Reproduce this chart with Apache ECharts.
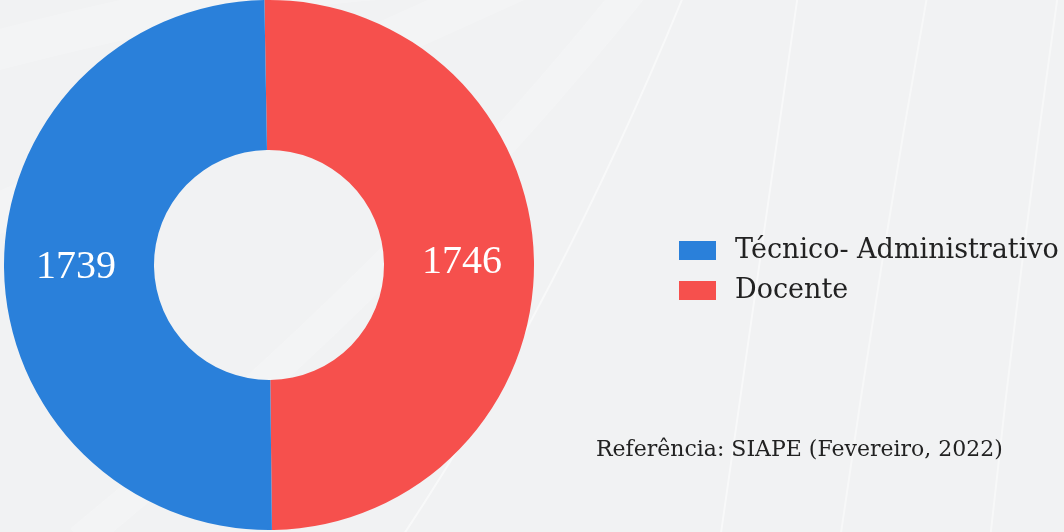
<!DOCTYPE html>
<html>
<head>
  <meta charset="UTF-8">
  <title>Servidores</title>
  <script src="https://cdn.jsdelivr.net/npm/echarts@6/dist/echarts.min.js"></script>
  <style>
    html, body { margin: 0; padding: 0; overflow: hidden; }
    #chart { width: 1064px; height: 532px; }
  </style>
</head>
<body>
<div id="chart"></div>
<script>
  // dados (SIAPE, fev/2022)
  var categorias = ['Docente', 'Técnico- Administrativo'];
  var valores = [1746, 1739];
  var cores = ['#f6504d', '#2a80da'];
  var ordemLegenda = ['Técnico- Administrativo', 'Docente'];
  var fonte = 'Referência: SIAPE (Fevereiro, 2022)';

  var myChart = echarts.init(document.getElementById('chart'));

  var dados = categorias.map(function (c, i) {
    return { name: c, value: valores[i], itemStyle: { color: cores[i] } };
  });

  // faixas claras do fundo (so decoracao)
  var faixas = [];
  var curvas = [
    [[-40, 60], [220, -10], [380, -20], 40, 0.2],
    [[-40, 230], [300, 80], [520, -20], 40, 0.2],
    [[80, 540], [420, 260], [640, -20], 30, 0.2],
    [[400, 540], [560, 300], [690, -20], 2, 0.5],
    [[720, 540], [760, 260], [800, -20], 2, 0.5],
    [[840, 540], [880, 260], [930, -20], 2, 0.45],
    [[990, 540], [1020, 260], [1060, -20], 2, 0.45]
  ];
  curvas.forEach(function (c) {
    faixas.push({
      type: 'bezierCurve',
      silent: true,
      z: -10,
      shape: { x1: c[0][0], y1: c[0][1], cpx1: c[1][0], cpy1: c[1][1], x2: c[2][0], y2: c[2][1] },
      style: { stroke: 'rgba(255,255,255,' + c[4] + ')', lineWidth: c[3], fill: null }
    });
  });

  var option = {
    backgroundColor: '#f1f2f3',
    animation: false,
    legend: {
      data: ordemLegenda,
      orient: 'vertical',
      left: 674,
      top: 232,
      icon: 'rect',
      itemWidth: 37,
      itemHeight: 19,
      itemGap: 13,
      textStyle: {
        fontFamily: 'DejaVu Serif',
        fontSize: 27,
        color: '#222',
        padding: [0, 0, 12, 14]
      }
    },
    graphic: faixas.concat([
      {
        type: 'text',
        left: 596,
        top: 439,
        style: {
          text: fonte,
          fontFamily: 'DejaVu Serif',
          fontSize: 22,
          fill: '#222'
        }
      }
    ]),
    series: [
      {
        type: 'pie',
        center: [269, 265],
        radius: [115, 265],
        startAngle: 91,
        clockwise: true,
        label: {
          show: true,
          position: 'inside',
          formatter: '{c}',
          color: '#fff',
          fontFamily: 'Liberation Serif',
          fontSize: 40
        },
        labelLine: { show: false },
        itemStyle: { borderWidth: 0 },
        emphasis: { scale: false },
        data: dados
      }
    ]
  };

  myChart.setOption(option);
</script>
</body>
</html>
